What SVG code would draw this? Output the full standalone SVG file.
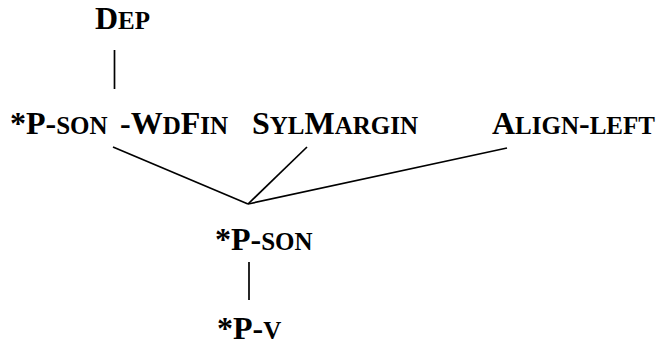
<svg xmlns="http://www.w3.org/2000/svg" width="660" height="346" viewBox="0 0 660 346">
  <style>
    .lbl { font-family: "Liberation Serif", "Times New Roman", serif; font-weight: bold; font-size: 32px; fill: #000; }
    .sc { font-size: 25px; }
    .edge { stroke: #000; stroke-width: 1.7; fill: none; stroke-linecap: butt; }
  </style>
  <rect width="660" height="346" fill="#fff"/>

  <!-- connectors -->
  <g id="connectors">
    <line class="edge" x1="114.5" y1="50" x2="114.5" y2="89"/>
    <line class="edge" x1="113" y1="147" x2="248" y2="204"/>
    <line class="edge" x1="307" y1="147" x2="248" y2="204"/>
    <line class="edge" x1="507" y1="148" x2="248" y2="204"/>
    <line class="edge" x1="249" y1="262" x2="249" y2="300"/>
  </g>

  <!-- constraint nodes -->
  <g id="node-dep">
    <text class="lbl" x="95" y="29">D<tspan class="sc">EP</tspan></text>
  </g>
  <g id="node-pson-wdfin">
    <text class="lbl" x="10" y="134">*P-<tspan class="sc">SON</tspan><tspan x="120">-W</tspan><tspan class="sc">D</tspan>F<tspan class="sc">IN</tspan></text>
  </g>
  <g id="node-sylmargin">
    <text class="lbl" x="252" y="134">S<tspan class="sc">YL</tspan>M<tspan class="sc">ARGIN</tspan></text>
  </g>
  <g id="node-align-left">
    <text class="lbl" x="492" y="134">A<tspan class="sc">LIGN</tspan>-<tspan class="sc">LEFT</tspan></text>
  </g>
  <g id="node-pson">
    <text class="lbl" x="215" y="250">*P-<tspan class="sc">SON</tspan></text>
  </g>
  <g id="node-pv">
    <text class="lbl" x="217" y="339">*P-<tspan class="sc">V</tspan></text>
  </g>
</svg>
